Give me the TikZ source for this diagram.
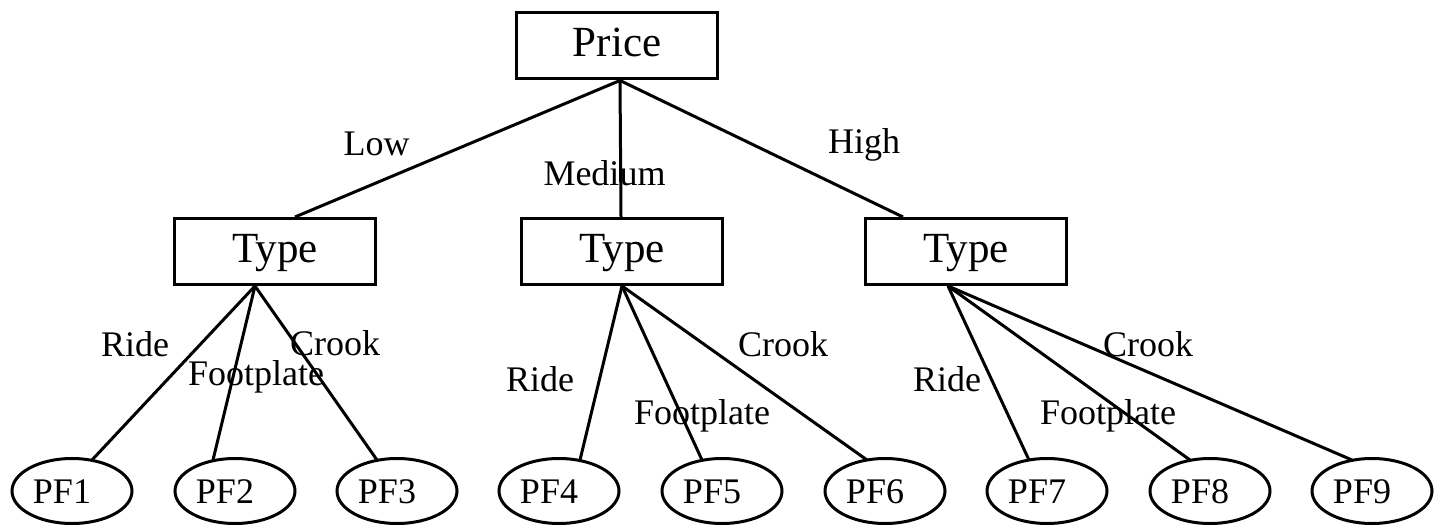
\documentclass[tikz,border=0pt]{standalone}
\usepackage{fontspec}
\setmainfont{Liberation Serif}
\usetikzlibrary{shapes.geometric,calc}
\newcommand{\leaftext}[1]{#1\hspace*{20pt}}
\begin{document}
\begin{tikzpicture}[x=1pt,y=-1pt,
  boxnode/.style={draw,line width=3pt,rectangle,minimum width=201pt,minimum height=66pt,inner sep=0pt,
    font=\fontsize{43}{50}\selectfont,text height=31pt,text depth=10pt},
  leafnode/.style={draw,line width=3pt,ellipse,minimum width=120pt,minimum height=65pt,inner sep=0pt,
    font=\fontsize{36}{42}\selectfont,text height=30pt,text depth=6pt},
  elabel/.style={anchor=base,inner sep=0pt,font=\fontsize{36}{42}\selectfont},
  edge/.style={line width=3pt}]
\useasboundingbox (0,0) rectangle (1443,527);
\fill[white] (0,0) rectangle (1443,527);
% nodes
\node[boxnode] (price) at (617,46) {Price};
\node[boxnode] (t1) at (275,251.5) {Type};
\node[boxnode] (t2) at (622,251.5) {Type};
\node[boxnode] (t3) at (966,251.5) {Type};
\node[leafnode] (pf1) at (72,491) {\leaftext{PF1}};
\node[leafnode] (pf2) at (235,491) {\leaftext{PF2}};
\node[leafnode] (pf3) at (397,491) {\leaftext{PF3}};
\node[leafnode] (pf4) at (559,491) {\leaftext{PF4}};
\node[leafnode] (pf5) at (722,491) {\leaftext{PF5}};
\node[leafnode] (pf6) at (885,491) {\leaftext{PF6}};
\node[leafnode] (pf7) at (1047,491) {\leaftext{PF7}};
\node[leafnode] (pf8) at (1210,491) {\leaftext{PF8}};
\node[leafnode] (pf9) at (1372,491) {\leaftext{PF9}};
% edges
\coordinate (ps) at ($(price.south)+(3,0)$);
\draw[edge] (ps) -- ($(t1.north)+(20,0)$);
\draw[edge] (ps) -- ($(t2.north)+(-1,0)$);
\draw[edge] (ps) -- ($(t3.north)+(-63,0)$);
\coordinate (t1s) at ($(t1.south)+(-20,0)$);
\coordinate (t2s) at ($(t2.south)+(0,0)$);
\coordinate (t3s) at ($(t3.south)+(-18,0)$);
\draw[edge] (t1s) -- ($(pf1.north)+(20,3)$);
\draw[edge] (t1s) -- ($(pf2.north)+(-22,3)$);
\draw[edge] (t1s) -- ($(pf3.north)+(-20,3)$);
\draw[edge] (t2s) -- ($(pf4.north)+(21,3)$);
\draw[edge] (t2s) -- ($(pf5.north)+(-20,3)$);
\draw[edge] (t2s) -- ($(pf6.north)+(-18,3)$);
\draw[edge] (t3s) -- ($(pf7.north)+(-18,3)$);
\draw[edge] (t3s) -- ($(pf8.north)+(-20,3)$);
\draw[edge] (t3s) -- ($(pf9.north)+(-20,3)$);
% edge labels
\node[elabel] (lLow) at (376.5,155) {Low};
\node[elabel] (lMed) at (604.5,185) {Medium};
\node[elabel] (lHigh) at (864,153) {High};
\node[elabel] (r1) at (135,356) {Ride};
\node[elabel] (f1) at (256,385) {Footplate};
\node[elabel] (c1) at (335,355) {Crook};
\node[elabel] (r2) at (540,391) {Ride};
\node[elabel] (f2) at (702,424) {Footplate};
\node[elabel] (c2) at (783,356) {Crook};
\node[elabel] (r3) at (947,391) {Ride};
\node[elabel] (f3) at (1108,424) {Footplate};
\node[elabel] (c3) at (1148,356) {Crook};
\end{tikzpicture}
\end{document}
